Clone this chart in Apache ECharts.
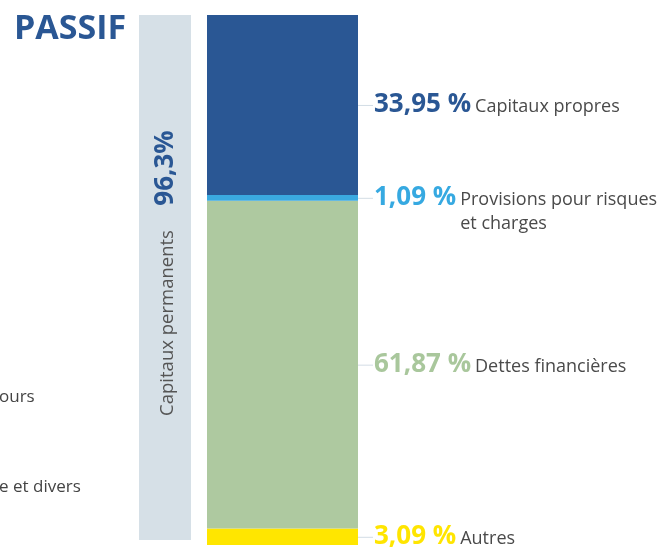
<!DOCTYPE html>
<html><head><meta charset="utf-8">
<script src="https://cdn.jsdelivr.net/npm/echarts@6/dist/echarts.min.js"></script>
<style>html,body{margin:0;padding:0;background:#fff}#c{width:660px;height:547px}</style>
</head><body><div id="c"></div>
<script>
// ---- data ----
const categories = ['PASSIF'];
const segmentNames = ['Autres', 'Dettes financières', 'Provisions pour risques\net charges', 'Capitaux propres'];
const segmentValues = [3.09, 61.87, 1.09, 33.95];
const segmentLabels = ['3,09 %', '61,87 %', '1,09 %', '33,95 %'];
const permanentLabel = 'Capitaux permanents';
const permanentValue = '96,3%';
const titleText = 'PASSIF';
const leftFragments = ['ours', 'e et divers'];

// ---- styles ----
const segmentColors = ['#ffe600', '#aec9a0', '#3aa9e0', '#2a5794'];
const labelColors = ['#ffe500', '#a9c79c', '#36a9e1', '#2a5794'];
const FONT = '"Open Sans", "Liberation Sans", sans-serif';
const pctFont = 'bold 26px ' + FONT;
const nameFont = '18px ' + FONT;

const measureCanvas = document.createElement('canvas').getContext('2d');
function textWidth(t, f) { measureCanvas.font = f; return measureCanvas.measureText(t).width; }

// label anchor data: middle of each stacked segment
let cum = 0;
const labelData = segmentValues.map((v, i) => { const mid = cum + v / 2; cum += v; return [0, mid, i]; });

const chart = echarts.init(document.getElementById('c'), null, { renderer: 'canvas' });

const barSeries = segmentValues.map((v, i) => ({
  type: 'bar', name: segmentNames[i], stack: 'passif', data: [v], barWidth: '100%',
  itemStyle: { color: segmentColors[i] }, silent: true
}));

chart.setOption({
  animation: false,
  grid: { left: 207, right: 302, top: 15, bottom: 2 },
  xAxis: { type: 'category', data: categories, show: false },
  yAxis: { type: 'value', min: 0, max: 100, show: false },
  graphic: [
    { type: 'text', left: 14, top: 12, style: { text: titleText, font: 'bold 34px ' + FONT, fill: '#2a5794' } },
    { type: 'rect', shape: { x: 139, y: 15, width: 52, height: 525 }, style: { fill: '#d6e0e7' }, z: -1 },
    { type: 'text', x: 168, y: 323, rotation: Math.PI / 2,
      style: { text: permanentLabel, font: '18.5px ' + FONT, fill: '#555', align: 'center', verticalAlign: 'middle' } },
    { type: 'text', x: 166, y: 168, rotation: Math.PI / 2,
      style: { text: permanentValue, font: 'bold 26px ' + FONT, fill: '#2a5794', align: 'center', verticalAlign: 'middle' } },
    { type: 'text', x: -1, y: 397, style: { text: leftFragments[0], font: '17px ' + FONT, fill: '#444', verticalAlign: 'middle' } },
    { type: 'text', x: -1, y: 487, style: { text: leftFragments[1], font: '17px ' + FONT, fill: '#444', verticalAlign: 'middle' } }
  ],
  series: barSeries.concat([{
    type: 'custom', silent: true, z: 5,
    data: labelData,
    renderItem: function (params, api) {
      const i = api.value(2);
      const pt = api.coord([0, api.value(1)]);
      const half = api.size([1, 0])[0] / 2;
      const x0 = pt[0] + half;
      const y = pt[1];
      const w = textWidth(segmentLabels[i], pctFont);
      return {
        type: 'group', children: [
          { type: 'line', shape: { x1: x0, y1: y + 0.5, x2: x0 + 15, y2: y + 0.5 }, style: { stroke: '#d3dde5', lineWidth: 1 } },
          { type: 'text', x: x0 + 16, y: y, style: { text: segmentLabels[i], font: pctFont, fill: labelColors[i], verticalAlign: 'middle' } },
          { type: 'text', x: x0 + 16 + w + 4, y: y + 2 - 12,
            style: { text: segmentNames[i], font: nameFont, fill: '#4a4a4a', verticalAlign: 'top', lineHeight: 24 } }
        ]
      };
    }
  }])
});
</script></body></html>
